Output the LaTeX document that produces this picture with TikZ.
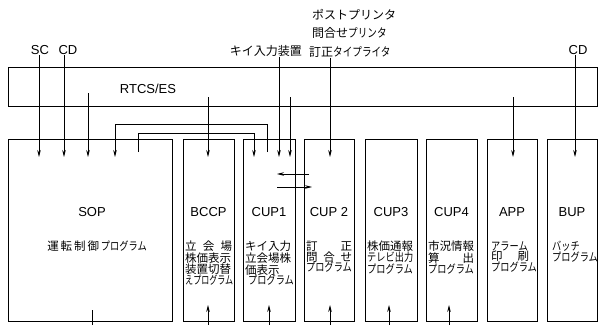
\documentclass[tikz,border=0pt]{standalone}
\usepackage{fontspec}
\usepackage{graphicx}
\setmainfont{Liberation Sans}
\newfontfamily\jp{Noto Sans CJK JP}
\usetikzlibrary{arrows.meta}
\newcommand\kana[1]{\scalebox{0.8}[1]{#1}}
\newcommand\spreadline[2]{\makebox[#1][l]{#2}}
\begin{document}
\begin{tikzpicture}[x=1pt,y=-1pt,
  box/.style={draw, line width=1pt, anchor=north west, inner sep=0pt, minimum height=182pt},
  ttl/.style={font=\fontsize{13}{13}\selectfont, inner sep=0pt},
  jtxt/.style={font=\jp\fontsize{11.5}{10.6}\selectfont, anchor=north west, inner sep=0pt, align=left},
  lbl/.style={font=\fontsize{13}{13}\selectfont, inner sep=0pt},
  jlbl/.style={font=\jp\fontsize{12}{12}\selectfont, inner sep=0pt},
  arr/.style={-{Stealth[length=7pt,width=3.6pt]}, line width=0.8pt},
  ln/.style={line width=0.8pt}]
\useasboundingbox (0,0) rectangle (599,324);

% RTCS/ES bar
\node[draw, line width=1pt, anchor=north west, inner sep=0pt, minimum width=589pt, minimum height=39pt] (rtcs) at (8,67) {};
\node[ttl] (rtcslbl) at (148,89) {RTCS/ES};

% program boxes
\node[box, minimum width=164pt] (sop)  at (8,139) {};
\node[box, minimum width=51pt]  (bccp) at (183,139) {};
\node[box, minimum width=52pt]  (cup1) at (243,139) {};
\node[box, minimum width=50pt]  (cup2) at (304,139) {};
\node[box, minimum width=52pt]  (cup3) at (365,139) {};
\node[box, minimum width=51pt]  (cup4) at (426,139) {};
\node[box, minimum width=50pt]  (app)  at (487,139) {};
\node[box, minimum width=50pt]  (bup)  at (547,139) {};

% titles
\node[ttl] (tsop)  at (92,212)  {SOP};
\node[ttl] (tbccp) at (208.5,212) {BCCP};
\node[ttl] (tcup1) at (269,212) {CUP1};
\node[ttl] (tcup2) at (329,212) {CUP 2};
\node[ttl] (tcup3) at (391,212) {CUP3};
\node[ttl] (tcup4) at (451.5,212) {CUP4};
\node[ttl] (tapp)  at (512,212) {APP};
\node[ttl] (tbup)  at (572,212) {BUP};

% box texts
\node[jtxt, anchor=north] (xsop) at (97,241) {運\,転\,制\,御\,\kana{プログラム}};
\node[jtxt] (xbccp) at (185,241) {\spreadline{47pt}{立\hfill 会\hfill 場}\\株価表示\\装置切替\\\scalebox{0.7}[1]{えプログラム}};
\node[jtxt] (xcup1) at (245,241) {キイ入力\\立会場株\\価表示\\\hspace{3pt}\kana{プログラム}};
\node[jtxt] (xcup2) at (306,241) {\spreadline{46pt}{訂\hfill 正}\\\spreadline{46pt}{問\hfill 合\hfill せ}\\\kana{プログラム}};
\node[jtxt] (xcup3) at (367,241) {株価通報\\\kana{テレビ出力}\\\kana{プログラム}};
\node[jtxt] (xcup4) at (428,241) {市況情報\\\spreadline{46pt}{算\hfill 出}\\\kana{プログラム}};
\node[jtxt] (xapp)  at (491,241) {\kana{アラーム}\\\spreadline{38pt}{印\hfill 刷}\\\kana{プログラム}};
\node[jtxt] (xbup)  at (552,241) {\kana{バッチ}\\\kana{プログラム}};

% top labels
\node[lbl] (sc)  at (40,50) {SC};
\node[lbl] (cdl) at (68,50) {CD};
\node[jlbl, anchor=east] (key) at (302,51) {キイ入力装置};
\node[jlbl, anchor=west] (post) at (312,15) {ポストプリンタ};
\node[jlbl, anchor=west] (inq)  at (312,33) {問合せ\kana{プリンタ}};
\node[jlbl, anchor=west] (corr) at (309,52) {訂正\kana{タイプライタ}};
\node[lbl] (cdr) at (578,50) {CD};

% arrow ends (tips) at top of boxes
\coordinate (tsc)   at (39,157);
\coordinate (tcd)   at (64,157);
\coordinate (t88)   at (88,157);
\coordinate (t208)  at (208,157);
\coordinate (t279)  at (279,157);
\coordinate (t290)  at (290,157);
\coordinate (t330)  at (330,157);
\coordinate (t513)  at (513,157);
\coordinate (t575)  at (575,157);
% starts inside RTCS
\coordinate (s88)  at (88,93);
\coordinate (s208) at (208,97);
\coordinate (s290) at (290,97);
\coordinate (s513) at (513,97);

\draw[arr] (sc.south -| tsc) -- (tsc);
\draw[arr] (cdl.south -| tcd) -- (tcd);
\draw[arr] (s88) -- (t88);
\draw[arr] (s208) -- (t208);
\draw[arr] (key.south -| t279) -- (t279);
\draw[arr] (s290) -- (t290);
\draw[arr] (corr.south -| t330) -- (t330);
\draw[arr] (s513) -- (t513);
\draw[arr] (cdr.south -| t575) -- (t575);

% SOP <-> CUP1 brackets
\coordinate (ob) at (267,152);
\coordinate (ot) at (115,157);
\coordinate (oy) at (0,124);
\draw[arr] (ob) -- (ob |- oy) -- (ot |- oy) -- (ot);
\coordinate (ib) at (138,152);
\coordinate (it) at (254,157);
\coordinate (iy) at (0,133);
\draw[arr] (ib) -- (ib |- iy) -- (it |- iy) -- (it);

% CUP1 <-> CUP2
\coordinate (h1s) at (309,174);
\coordinate (h1e) at (277,174);
\coordinate (h2s) at (277,187);
\coordinate (h2e) at (312,187);
\draw[arr] (h1s) -- (h1e);
\draw[arr] (h2s) -- (h2e);

% bottom inputs
\foreach \x/\n in {208/b1, 269/b2, 330/b3, 389/b4, 449/b5}{
  \coordinate (\n s) at (\x,326);
  \coordinate (\n e) at (\x,305);
  \draw[arr] (\n s) -- (\n e);
}
\coordinate (b0s) at (92,326);
\coordinate (b0e) at (92,310);
\draw[ln] (b0s) -- (b0e);
\end{tikzpicture}
\end{document}
